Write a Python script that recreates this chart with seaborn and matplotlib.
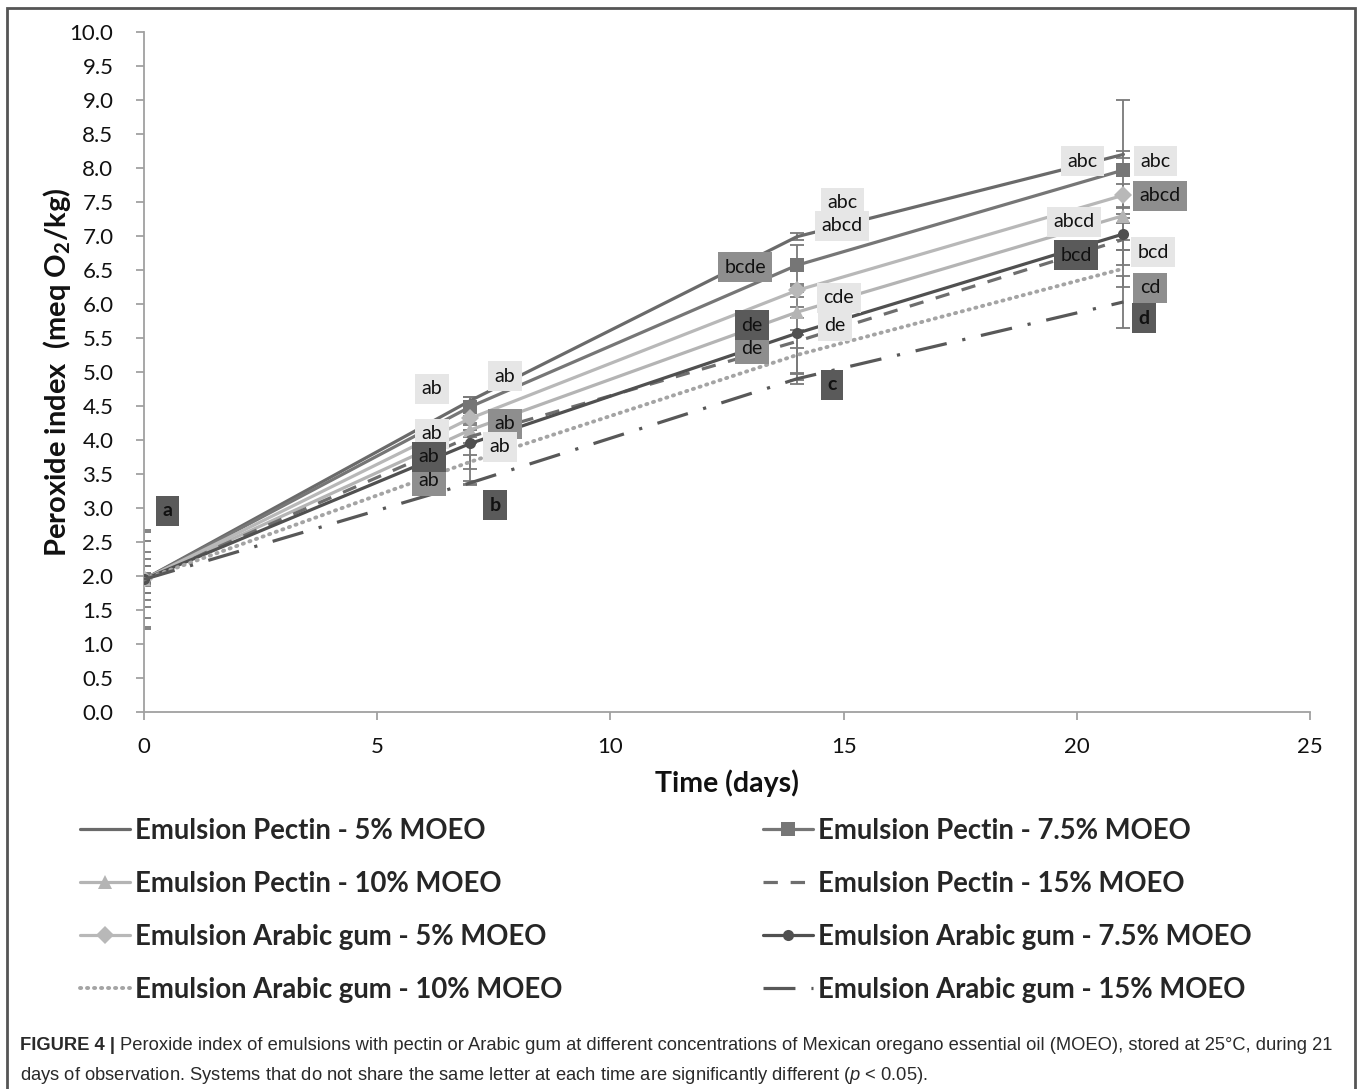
import numpy as np
import pandas as pd
import matplotlib
matplotlib.use("Agg")
import matplotlib.pyplot as plt
import seaborn as sns
from matplotlib.lines import Line2D
from matplotlib.patches import Rectangle

# 保存期間（日）
days = [0, 7, 14, 21]

# 各エマルションの過酸化物価 (meq O2/kg)
pectin_5 = [1.95, 4.58, 6.99, 8.20]
pectin_75 = [1.95, 4.49, 6.57, 7.97]
pectin_10 = [1.95, 4.15, 5.88, 7.30]
pectin_15 = [1.95, 4.05, 5.45, 6.95]
arabic_5 = [1.95, 4.32, 6.20, 7.60]
arabic_75 = [1.95, 3.95, 5.57, 7.03]
arabic_10 = [1.95, 3.68, 5.25, 6.52]
arabic_15 = [1.95, 3.37, 4.90, 6.03]

# 標準偏差（エラーバー）
err_pectin_5 = [0.10, 0.05, 0.05, 0.05]
err_pectin_75 = [0.73, 0.14, 0.30, 1.03]
err_pectin_10 = [0.57, 0.10, 0.08, 0.11]
err_pectin_15 = [0.20, 0.10, 0.10, 0.38]
err_arabic_5 = [0.40, 0.10, 0.10, 0.17]
err_arabic_75 = [0.70, 0.60, 0.60, 0.23]
err_arabic_10 = [0.30, 0.10, 0.37, 0.27]
err_arabic_15 = [0.20, 0.03, 0.08, 0.38]

# 有意差の文字 (日, 値, 文字, 色の濃さ)
letters = [
    (0.51, 2.96, "a", "dark"),
    (6.17, 4.75, "ab", "light"),
    (7.74, 4.94, "ab", "light"),
    (6.17, 4.09, "ab", "light"),
    (6.11, 3.40, "ab", "mid"),
    (6.11, 3.75, "ab", "dark"),
    (7.74, 4.24, "ab", "mid"),
    (7.63, 3.90, "ab", "light"),
    (7.53, 3.04, "b", "dark"),
    (14.97, 7.49, "abc", "light"),
    (14.97, 7.15, "abcd", "light"),
    (12.89, 6.54, "bcde", "mid"),
    (14.90, 6.09, "cde", "light"),
    (13.04, 5.34, "de", "mid"),
    (13.04, 5.69, "de", "dark"),
    (14.82, 5.68, "de", "light"),
    (14.75, 4.81, "c", "dark"),
    (20.13, 8.10, "abc", "light"),
    (21.68, 8.10, "abc", "light"),
    (21.78, 7.59, "abcd", "mid"),
    (19.94, 7.21, "abcd", "light"),
    (19.98, 6.72, "bcd", "dark"),
    (21.63, 6.76, "bcd", "light"),
    (21.57, 6.24, "cd", "mid"),
    (21.44, 5.79, "d", "dark"),
]

sns.set_theme(style="white")
plt.rcParams['font.family'] = ['Lato', 'DejaVu Sans']
plt.rcParams['mathtext.fontset'] = 'custom'
plt.rcParams['mathtext.rm'] = 'Lato'
plt.rcParams['mathtext.bf'] = 'Lato:bold'
plt.rcParams['mathtext.it'] = 'Liberation Sans:italic'

fig = plt.figure(figsize=(13.58, 10.89), dpi=100)
ax = fig.add_axes([144 / 1358, 1 - 712 / 1089, 1166 / 1358, 680 / 1089])

lw = 2.3
series = [
    ("Emulsion Pectin - 5% MOEO", pectin_5, err_pectin_5,
     dict(color="#6a6a6a", marker=None, linestyle="-")),
    ("Emulsion Pectin - 7.5% MOEO", pectin_75, err_pectin_75,
     dict(color="#767676", marker="s", markersize=10, linestyle="-")),
    ("Emulsion Pectin - 10% MOEO", pectin_10, err_pectin_10,
     dict(color="#b4b4b4", marker="^", markersize=10, linestyle="-")),
    ("Emulsion Pectin - 15% MOEO", pectin_15, err_pectin_15,
     dict(color="#6e6e6e", marker=None, linestyle=(0, (4.5, 4)))),
    ("Emulsion Arabic gum - 5% MOEO", arabic_5, err_arabic_5,
     dict(color="#b8b8b8", marker="D", markersize=9, linestyle="-")),
    ("Emulsion Arabic gum - 7.5% MOEO", arabic_75, err_arabic_75,
     dict(color="#505050", marker="o", markersize=8, linestyle="-")),
    ("Emulsion Arabic gum - 10% MOEO", arabic_10, err_arabic_10,
     dict(color="#a4a4a4", marker=None, linestyle=(0, (0.3, 1.5)), dash_capstyle="round")),
    ("Emulsion Arabic gum - 15% MOEO", arabic_15, err_arabic_15,
     dict(color="#585858", marker=None, linestyle=(0, (10, 5, 1, 5)))),
]

# エラーバー
for name, vals, err, st in series:
    ax.errorbar(days, vals, yerr=err, fmt='none', ecolor="#7a7a7a",
                elinewidth=1.3, capsize=5, capthick=1.3, zorder=2)

handles = {}
for name, vals, err, st in series:
    kw = dict(st)
    w = 2.8 if "10% MOEO" in name and "Arabic" in name else lw
    sns.lineplot(x=days, y=vals, ax=ax, linewidth=w, markeredgewidth=0,
                 legend=False, zorder=3, **kw)
    handles[name] = Line2D([], [], linewidth=w, markeredgewidth=0, **kw)

shade = {"light": "#e6e6e6", "mid": "#8e8e8e", "dark": "#5a5a5a"}
for x, y, txt, s in letters:
    bold = len(txt) == 1
    ax.text(x, y, txt, ha="center", va="center",
            fontsize=14, fontweight="bold" if bold else "normal",
            color="#111111", zorder=5,
            bbox=dict(boxstyle="square,pad=0.33", fc=shade[s], ec="none"))

ax.set_xlim(0, 25)
ax.set_ylim(0, 10)
ax.set_xticks(range(0, 26, 5))
ax.set_yticks(np.arange(0, 10.01, 0.5))
ax.set_yticklabels([f"{v:.1f}" for v in np.arange(0, 10.01, 0.5)])
ax.tick_params(axis="both", labelsize=16, colors="#9a9a9a", labelcolor="#111111",
               length=6, width=1.2, direction="out", left=True, bottom=True)
ax.tick_params(axis="x", pad=12)
ax.tick_params(axis="y", pad=16)
for side in ["top", "right"]:
    ax.spines[side].set_visible(False)
for side in ["left", "bottom"]:
    ax.spines[side].set_color("#a0a0a0")
    ax.spines[side].set_linewidth(1.3)

ax.set_xlabel("Time (days)", fontsize=20.5, fontweight="bold", color="#111111")
ax.xaxis.set_label_coords(0.5, -0.084)
ax.set_ylabel(r"Peroxide index  (meq O$_\mathbf{2}$/kg)", fontsize=21,
              fontweight="bold", color="#111111")
ax.yaxis.set_label_coords(-0.061, 0.5)

col1 = ["Emulsion Pectin - 5% MOEO", "Emulsion Pectin - 10% MOEO",
        "Emulsion Arabic gum - 5% MOEO", "Emulsion Arabic gum - 10% MOEO"]
col2 = ["Emulsion Pectin - 7.5% MOEO", "Emulsion Pectin - 15% MOEO",
        "Emulsion Arabic gum - 7.5% MOEO", "Emulsion Arabic gum - 15% MOEO"]
leg_kw = dict(frameon=False, prop={"family": "Lato", "weight": "bold", "size": 19.8},
              handlelength=1.8, handletextpad=0.2, labelspacing=0.98,
              borderaxespad=0, borderpad=0)
fig.legend([handles[n] for n in col1], col1, loc="upper left",
           bbox_to_anchor=(80 / 1358, 1 - 818 / 1089), **leg_kw)
fig.legend([handles[n] for n in col2], col2, loc="upper left",
           bbox_to_anchor=(763 / 1358, 1 - 818 / 1089), **leg_kw)

# 枠線
fig.patches.append(Rectangle((7 / 1358, -0.02), 1348 / 1358, 1.02 - 8 / 1089,
                             transform=fig.transFigure, fill=False,
                             ec="#555555", lw=2))

# キャプション
cap_kw = dict(family="Liberation Sans", fontsize=13.2, color="#2a2a2a", va="center")
t = fig.text(20 / 1358, 1 - 1046 / 1089, "FIGURE 4 |", fontweight="bold", **cap_kw)
fig.canvas.draw()
bb = t.get_window_extent()
x2 = (bb.x1 + 5) / fig.bbox.width
fig.text(x2, 1 - 1046 / 1089,
         "Peroxide index of emulsions with pectin or Arabic gum at different concentrations "
         "of Mexican oregano essential oil (MOEO), stored at 25°C, during 21", **cap_kw)
fig.text(20 / 1358, 1 - 1075 / 1089,
         "days of observation. Systems that do not share the same letter at each time "
         r"are significantly different ($p$ < 0.05).", **cap_kw)

fig.savefig("out.png", dpi=100)
